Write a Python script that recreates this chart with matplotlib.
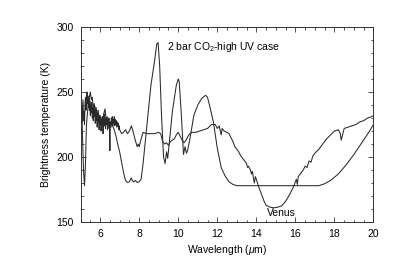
import numpy as np
import matplotlib
matplotlib.use('Agg')
import matplotlib.pyplot as plt
from matplotlib.ticker import MultipleLocator

plt.rcParams['font.family'] = ['Liberation Sans', 'DejaVu Sans']
plt.rcParams['mathtext.fontset'] = 'custom'
plt.rcParams['mathtext.rm'] = 'Liberation Sans'
plt.rcParams['mathtext.it'] = 'Liberation Sans:italic'

# Modell: 2 bar CO2, hohe UV-Strahlung
model_wl = [5.0, 5.05, 5.1, 5.15, 5.2, 5.25, 5.3, 5.4, 5.5, 5.55, 5.6, 5.65, 5.7, 5.75,
            5.8, 5.85, 5.9, 5.95, 6.0, 6.05, 6.1, 6.15, 6.2, 6.25, 6.3, 6.35, 6.4, 6.45,
            6.5, 6.55, 6.6, 6.7, 6.8, 6.9, 7.0, 7.1, 7.2, 7.3, 7.4, 7.5, 7.6, 7.65, 7.7,
            7.8, 7.9, 8.0, 8.1, 8.2, 8.4, 8.6, 8.8, 8.9, 8.97, 9.05, 9.15, 9.25, 9.33,
            9.4, 9.46, 9.55, 9.7, 9.9, 10.0, 10.05, 10.15, 10.27, 10.35, 10.42, 10.48,
            10.6, 10.8, 11.0, 11.2, 11.4, 11.5, 11.6, 11.8, 12.0, 12.2, 12.4, 12.6, 12.8,
            13.0, 17.2, 17.5, 17.8, 18.2, 18.6, 19.0, 19.4, 19.8, 20.0]
model_tb = [250, 240, 215, 190, 178, 195, 225, 242, 250, 244, 246, 238, 241, 234,
            238, 230, 236, 228, 232, 226, 231, 229, 234, 237, 230, 226, 229, 222,
            226, 227, 225, 222, 217, 210, 204, 196, 188, 182, 180.5, 181, 184, 182, 181,
            182, 180.5, 181, 183, 195, 225, 255, 275, 287, 288, 270, 230, 200, 195,
            204, 199, 212, 235, 255, 260, 258, 235, 202, 208, 203, 205,
            214, 232, 240, 245, 247.5, 246, 240, 227, 207, 192, 185.5, 181, 179,
            178, 178, 179.5, 182, 187, 194, 202, 211, 220, 225]

# Venus (Beobachtung)
venus_wl = [5.0, 5.025, 5.05, 5.075, 5.1, 5.125, 5.15, 5.175, 5.2, 5.225, 5.25, 5.275,
            5.3, 5.325, 5.35, 5.375, 5.4, 5.425, 5.45, 5.475, 5.5, 5.525, 5.55, 5.575,
            5.6, 5.625, 5.65, 5.675, 5.7, 5.725, 5.75, 5.775, 5.8, 5.825, 5.85, 5.875,
            5.9, 5.925, 5.95, 5.975, 6.0, 6.025, 6.05, 6.075, 6.1, 6.125, 6.15, 6.175,
            6.2, 6.225, 6.25, 6.275, 6.3, 6.325, 6.35, 6.375, 6.4, 6.425, 6.45, 6.475,
            6.5, 6.525, 6.55, 6.575, 6.6, 6.625, 6.65, 6.675, 6.7, 6.725, 6.75, 6.775,
            6.8, 6.825, 6.85, 6.875, 6.9, 6.925, 6.95, 6.975, 7.0, 7.1,
            7.2, 7.3, 7.4, 7.5, 7.6, 7.7, 7.8, 7.9, 7.95, 8.0, 8.1, 8.2, 8.4, 8.6, 8.8,
            9.0, 9.1, 9.2, 9.3, 9.4, 9.5, 9.6, 9.7, 9.8, 9.9, 10.0, 10.1, 10.2, 10.3,
            10.4, 10.5, 10.6, 10.7, 10.9, 11.1, 11.3, 11.5, 11.7, 11.9, 12.0, 12.1, 12.2,
            12.25, 12.35, 12.5, 12.6, 12.7, 12.8, 12.9, 13.0, 13.1, 13.2, 13.3, 13.4,
            13.5, 13.55, 13.6, 13.7, 13.75, 13.8, 13.85, 13.9, 13.95, 14.0, 14.1, 14.2,
            14.3, 14.4, 14.5, 14.7, 14.9, 15.1, 15.3, 15.5, 15.7, 15.8, 15.9, 16.0, 16.05,
            16.1, 16.15, 16.3, 16.4, 16.5, 16.6, 16.7, 16.8, 16.9, 17.0, 17.2, 17.4, 17.6,
            17.8, 18.0, 18.2, 18.3, 18.35, 18.4, 18.5, 18.7, 18.9, 19.1, 19.3, 19.5, 19.7,
            19.9, 20.0]
venus_tb = [238, 230, 242, 226, 236, 244, 228, 235, 225, 240, 246, 236,
            242, 250, 241, 247, 238, 245, 236, 243, 232, 240, 234, 242,
            230, 238, 228, 237, 231, 239, 226, 234, 228, 236, 223, 233,
            227, 231, 221, 232, 225, 230, 220, 229, 224, 231, 218, 228,
            233, 224, 230, 222, 229, 225, 231, 221, 228, 224, 230, 222,
            205, 227, 223, 230, 225, 231, 224, 229, 226, 231, 224, 229,
            225, 228, 223, 227, 224, 226, 221, 224, 221, 218,
            219, 221, 218, 220, 224, 219, 213, 208, 210, 208, 214, 219, 218, 218, 218,
            219, 218, 212, 210, 211, 209, 212, 213, 214, 217, 219, 216, 213, 211,
            213, 216, 218, 219, 219, 220, 221, 222, 225, 225, 222, 224, 217,
            222, 220, 219, 218, 215, 212, 208, 206, 204, 201, 199, 197,
            195, 192, 193, 190, 187, 189, 184, 180, 185, 183, 178, 174,
            170, 166, 163, 161.5, 161, 161.5, 162.5, 166, 171, 174, 177, 181, 183,
            179, 185, 188, 190, 193, 192, 197, 196, 201, 203, 206, 210, 214,
            217, 220, 221, 218, 213, 216, 222, 223, 224, 225, 227, 228, 230,
            231, 232]

fig = plt.figure(figsize=(3.99, 2.78), dpi=100)
ax = fig.add_axes([0.202, 0.201, 0.734, 0.702])

ax.plot(model_wl, model_tb, color='#2a2a2a', lw=0.75)
ax.plot(venus_wl, venus_tb, color='#2a2a2a', lw=0.75)

ax.set_xlim(5, 20)
ax.set_ylim(150, 300)
ax.xaxis.set_major_locator(MultipleLocator(2))
ax.xaxis.set_minor_locator(MultipleLocator(0.5))
ax.yaxis.set_major_locator(MultipleLocator(50))
ax.yaxis.set_minor_locator(MultipleLocator(10))
ax.set_xticks([6, 8, 10, 12, 14, 16, 18, 20])
ax.tick_params(which='both', direction='in', top=True, right=True, labelsize=7.5,
               width=0.6, color='#333333')
ax.tick_params(which='major', length=3.5, pad=5)
ax.tick_params(which='minor', length=1.8)
for s in ax.spines.values():
    s.set_linewidth(0.7)
    s.set_color('#333333')

ax.set_xlabel(r'Wavelength ($\mu$m)', fontsize=7.5, labelpad=3)
ax.set_ylabel('Brightness temperature (K)', fontsize=7.5, labelpad=4)

ax.text(9.4, 284.5, r'2 bar CO$_2$-high UV case', fontsize=7.5, ha='left', va='center')
ax.text(15.3, 157, 'Venus', fontsize=7.5, ha='center', va='center')

fig.savefig('out.png', dpi=100)
